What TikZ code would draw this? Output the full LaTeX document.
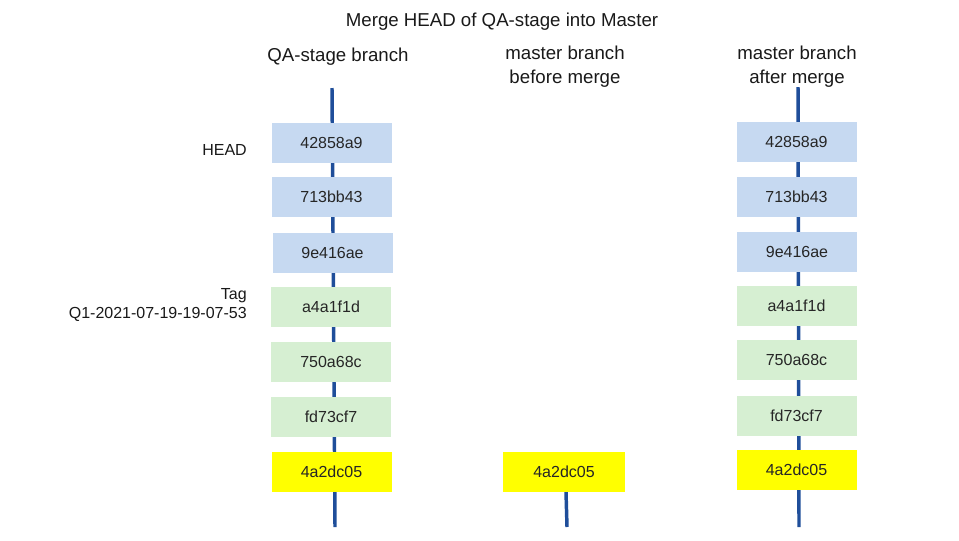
\documentclass[tikz,border=0pt]{standalone}
\usepackage{fontspec}
\setmainfont{Liberation Sans}
\definecolor{linecol}{HTML}{1F4E9A}
\definecolor{bluebox}{HTML}{C6D9F1}
\definecolor{greenbox}{HTML}{D6EFD2}
\definecolor{yellowbox}{HTML}{FFFF00}
\begin{document}
\begin{tikzpicture}[x=0.75pt,y=-0.75pt,
  commit/.style={minimum width=90pt,minimum height=30pt,inner sep=0pt,font=\fontsize{12}{14}\selectfont,text=black!85},
  bluec/.style={commit,fill=bluebox},
  greenc/.style={commit,fill=greenbox},
  yellowc/.style={commit,fill=yellowbox},
  branchline/.style={draw=linecol,line width=2.6pt},
  header/.style={font=\fontsize{14}{18}\selectfont,align=center,text=black!90},
  sidelabel/.style={font=\fontsize{12}{14}\selectfont,align=right,anchor=east,inner sep=0pt,text=black!90}]
\useasboundingbox (0,0) rectangle (959,540);
% branch lines
\coordinate (qtop) at (332,88);
\coordinate (qbot) at (335,527);
\coordinate (btop) at (566,492);
\coordinate (bbot) at (567,527);
\coordinate (atop) at (798,87);
\coordinate (abot) at (799,527);
\draw[branchline] (qtop) -- (qbot);
\draw[branchline] (btop) -- (bbot);
\draw[branchline] (atop) -- (abot);
% titles
\node[header] (title) at (502,22) {Merge HEAD of QA-stage into Master};
\node[header] (hq) at (338,57) {QA-stage branch};
\node[header] (hb) at (565,67) {master branch\\before merge};
\node[header] (ha) at (797,67) {master branch\\after merge};
% QA-stage branch
\node[bluec] (q1) at (331.5,142.5) {42858a9};
\node[bluec] (q2) at (331.5,197) {713bb43};
\node[bluec] (q3) at (332.5,252.5) {9e416ae};
\node[greenc] (q4) at (331,307) {a4a1f1d};
\node[greenc] (q5) at (331,361.5) {750a68c};
\node[greenc] (q6) at (331,416.5) {fd73cf7};
\node[yellowc] (q7) at (331.5,471.5) {4a2dc05};
% master before merge
\node[yellowc,minimum width=91.5pt] (b1) at (564,471.5) {4a2dc05};
% master after merge
\node[bluec] (a1) at (796.5,141.5) {42858a9};
\node[bluec] (a2) at (796.5,196.5) {713bb43};
\node[bluec] (a3) at (797,251.5) {9e416ae};
\node[greenc] (a4) at (796.5,305.5) {a4a1f1d};
\node[greenc] (a5) at (796.5,360) {750a68c};
\node[greenc] (a6) at (796.5,415.5) {fd73cf7};
\node[yellowc] (a7) at (796.5,469.5) {4a2dc05};
% side labels
\node[sidelabel] (head) at (247,150) {HEAD};
\node[sidelabel] (tag) at (247,305) {Tag\\Q1-2021-07-19-19-07-53};
\end{tikzpicture}
\end{document}
